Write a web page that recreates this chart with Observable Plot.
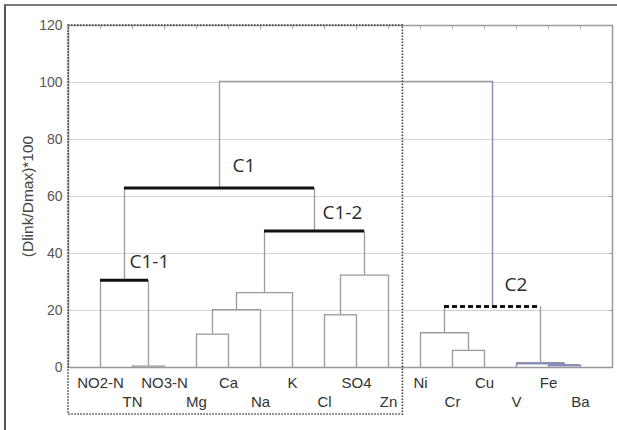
<!DOCTYPE html>
<html>
<head>
<meta charset="utf-8">
<script src="https://cdn.jsdelivr.net/npm/d3@7"></script>
<script src="https://cdn.jsdelivr.net/npm/@observablehq/plot@0.6"></script>
<style>
  html, body { margin: 0; padding: 0; background: #fff; }
  #wrap { position: relative; width: 617px; height: 430px; overflow: hidden; }
  #frame { position: absolute; left: 4px; top: 4px; width: 640px; height: 460px;
           border-top: 2px solid #7a7a7a; border-left: 2px solid #555; }
  #chart { position: absolute; left: 0; top: 0; }
</style>
</head>
<body>
<div id="wrap"><div id="frame"></div><div id="chart"></div></div>
<script>
// Leaves in dendrogram order
const leaves = ["NO2-N","TN","NO3-N","Mg","Ca","Na","K","Cl","SO4","Zn","Ni","Cr","Cu","V","Fe","Ba"];
// Linkage: node ids < 16 are leaves, node 16+k is merge k
const linkA = [1, 0, 3, 18, 19, 7, 21, 20, 17, 11, 10, 14, 13, 26, 24];
const linkB = [2, 16, 4, 5, 6, 8, 9, 22, 23, 12, 25, 15, 27, 28, 29];
const linkH = [0.5, 30.6, 11.7, 20.3, 26.3, 18.5, 32.4, 47.9, 63.0, 6.0, 12.2, 0.8, 1.5, 21.4, 100.4];
// Named clusters
const clusterNames = ["C1-1", "C1-2", "C1", "C2"];
const clusterNodes = [17, 23, 24, 29];
// Axis ticks
const yTicks = [0, 20, 40, 60, 80, 100, 120];
const yLabel = "(Dlink/Dmax)*100";

const n = leaves.length;
const nodeX = [], nodeH = [];
leaves.forEach((_, i) => { nodeX[i] = i; nodeH[i] = 0; });
linkA.forEach((a, k) => {
  const b = linkB[k], id = n + k;
  nodeX[id] = (nodeX[a] + nodeX[b]) / 2;
  nodeH[id] = linkH[k];
});

// subtree of V/Fe/Ba drawn bluish, plus the leg from the root to C2
const blueNodes = new Set([n + 11, n + 12]);
const rootId = n + linkA.length - 1;

const horiz = [], verts = [];
linkA.forEach((a, k) => {
  const b = linkB[k], id = n + k, h = linkH[k];
  const ci = clusterNodes.indexOf(id);
  const kind = ci < 0 ? (blueNodes.has(id) ? "blue" : "thin") : (clusterNames[ci] === "C2" ? "dash" : "thick");
  horiz.push({x1: nodeX[a], x2: nodeX[b], y: h, kind});
  for (const c of [a, b]) {
    const blue = blueNodes.has(id) || (id === rootId && c === clusterNodes[3]);
    verts.push({x: nodeX[c], y1: nodeH[c], y2: h, kind: blue ? "blue" : "thin"});
  }
});

const labelsData = clusterNames.map((name, i) => ({name, x: nodeX[clusterNodes[i]], y: nodeH[clusterNodes[i]]}));
const labelOffset = {"C1": [13, -22], "C1-2": [8, -18], "C1-1": [5, -18], "C2": [12, -22]};

const boundary = (leaves.indexOf("Zn") + leaves.indexOf("Ni")) / 2 - 0.05;
const groupBox = [{x1: -1, x2: boundary, y1: -16.5, y2: 120}];

const leafData = leaves.map((name, i) => ({name, i}));

const chart = Plot.plot({
  width: 617,
  height: 430,
  marginLeft: 68,
  marginRight: 5,
  marginTop: 25,
  marginBottom: 63,
  style: {fontFamily: "'Liberation Sans', Arial, sans-serif", fontSize: "14px", color: "#555", background: "transparent", overflow: "visible"},
  x: {domain: [-1, n], axis: null},
  y: {domain: [0, 120], axis: null},
  marks: [
    Plot.gridY([20, 40, 60, 80, 100], {stroke: "#d4d4d4", strokeOpacity: 1, strokeWidth: 1}),
    Plot.frame({stroke: "#9a9a9a", strokeWidth: 1.5}),
    Plot.axisY({ticks: yTicks, tickSize: 0, tickPadding: 6, label: null, fill: "#555"}),
    Plot.axisY({ticks: [], label: yLabel, labelAnchor: "center", labelArrow: "none", labelOffset: 47, fill: "#444", fontSize: 15.5}),
    Plot.axisY({anchor: "right", ticks: yTicks, tickSize: -4, tickFormat: () => "", label: null, stroke: "#999"}),
    Plot.axisX({anchor: "top", ticks: d3.range(n), tickSize: -3, tickFormat: () => "", label: null, stroke: "#aaa"}),
    Plot.ruleX(verts.filter(d => d.kind === "thin"), {x: "x", y1: "y1", y2: "y2", stroke: "#9a9a9a", strokeWidth: 1.3}),
    Plot.ruleX(verts.filter(d => d.kind === "blue"), {x: "x", y1: "y1", y2: "y2", stroke: "#8a8fb8", strokeWidth: 1.5}),
    Plot.ruleY(horiz.filter(d => d.kind === "thin"), {x1: "x1", x2: "x2", y: "y", stroke: "#9a9a9a", strokeWidth: 1.3}),
    Plot.ruleY(horiz.filter(d => d.kind === "blue"), {x1: "x1", x2: "x2", y: "y", stroke: "#8a8fb8", strokeWidth: 2.5}),
    Plot.ruleY(horiz.filter(d => d.kind === "thick"), {x1: "x1", x2: "x2", y: "y", stroke: "#111", strokeWidth: 3}),
    Plot.ruleY(horiz.filter(d => d.kind === "dash"), {x1: "x1", x2: "x2", y: "y", stroke: "#111", strokeWidth: 3, strokeDasharray: "5,3"}),
    Plot.rect(groupBox, {x1: "x1", x2: "x2", y1: "y1", y2: "y2", fill: "none", stroke: "#444", strokeWidth: 1.6, strokeDasharray: "1.5,1.5"}),
    Plot.text(leafData.filter(d => d.i % 2 === 0), {x: "i", y: 0, text: "name", dy: 16, fill: "#333", fontSize: 15}),
    Plot.text(leafData.filter(d => d.i % 2 === 1), {x: "i", y: 0, text: "name", dy: 35, fill: "#333", fontSize: 15}),
    ...labelsData.map(d => Plot.text([d], {x: "x", y: "y", text: "name", textAnchor: "start", dx: labelOffset[d.name][0], dy: labelOffset[d.name][1], fill: "#2a2a2a", fontSize: 19, fontFamily: "'Open Sans', sans-serif"}))
  ]
});
document.getElementById("chart").appendChild(chart);
</script>
</body>
</html>
